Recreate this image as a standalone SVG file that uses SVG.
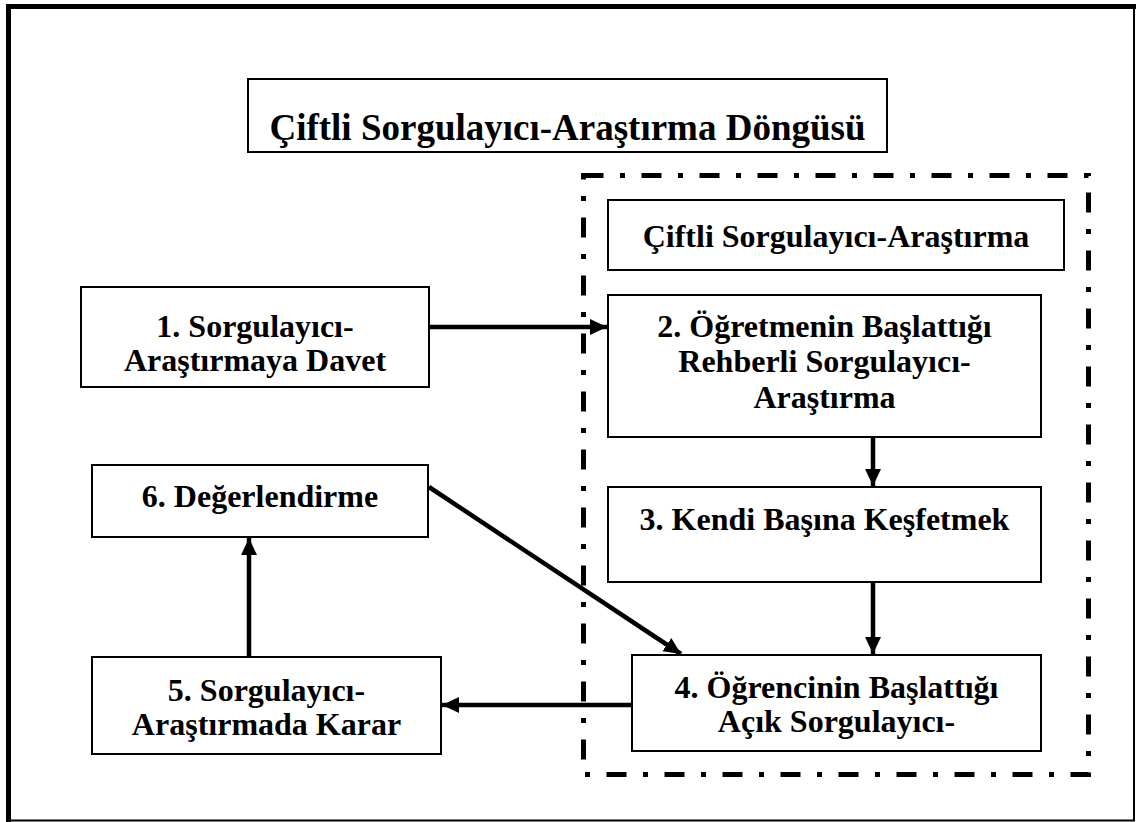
<svg xmlns="http://www.w3.org/2000/svg" width="1136" height="822" viewBox="0 0 1136 822">
<style>
.box{fill:#fff;stroke:#000;stroke-width:2}
.lbl{font-family:"Liberation Serif","Times New Roman",serif;font-weight:bold;font-size:32px;text-anchor:middle;fill:#000}
.ttl{font-family:"Liberation Serif","Times New Roman",serif;font-weight:bold;font-size:37px;text-anchor:middle;fill:#000}
.con{stroke:#000;stroke-width:4.5;fill:none;marker-end:url(#ah)}
</style>
<defs>
<marker id="ah" markerUnits="userSpaceOnUse" markerWidth="20" markerHeight="18" refX="17" refY="8" orient="auto">
<path d="M0,0 L17,8 L0,16 Z" fill="#000"/>
</marker>
</defs>
<rect width="1136" height="822" fill="#fff"/>
<path d="M8.5,822 V6.5 H1136" fill="none" stroke="#000" stroke-width="5"/>
<path d="M1134,6 V820.5 H8" fill="none" stroke="#000" stroke-width="2"/>
<g id="title">
<rect class="box" x="248" y="79" width="639" height="73"/>
<text class="ttl" x="567.5" y="140">Çiftli Sorgulayıcı-Araştırma Döngüsü</text>
</g>
<g id="group-paired">
<rect x="583.5" y="175.5" width="505" height="599" fill="none" stroke="#000" stroke-width="5" stroke-dasharray="20 16.5 5 16.5"/>
</g>
<g id="paired-label">
<rect class="box" x="608" y="200" width="456" height="70"/>
<text class="lbl" x="836" y="247">Çiftli Sorgulayıcı-Araştırma</text>
</g>
<g id="n1">
<rect class="box" x="81" y="287" width="348" height="100"/>
<text class="lbl" x="255" y="337">1. Sorgulayıcı-</text>
<text class="lbl" x="255" y="371">Araştırmaya Davet</text>
</g>
<g id="n2">
<rect class="box" x="608" y="295" width="433" height="142"/>
<text class="lbl" x="824.5" y="337">2. Öğretmenin Başlattığı</text>
<text class="lbl" x="824.5" y="372">Rehberli Sorgulayıcı-</text>
<text class="lbl" x="824.5" y="408">Araştırma</text>
</g>
<g id="n3">
<rect class="box" x="608" y="487" width="433" height="95"/>
<text class="lbl" x="824.5" y="530">3. Kendi Başına Keşfetmek</text>
</g>
<g id="n4">
<rect class="box" x="632" y="655" width="409" height="96"/>
<text class="lbl" x="836.5" y="698">4. Öğrencinin Başlattığı</text>
<text class="lbl" x="836.5" y="732">Açık Sorgulayıcı-</text>
</g>
<g id="n5">
<rect class="box" x="92" y="657" width="349" height="97"/>
<text class="lbl" x="266.5" y="701">5. Sorgulayıcı-</text>
<text class="lbl" x="266.5" y="735">Araştırmada Karar</text>
</g>
<g id="n6">
<rect class="box" x="92" y="465" width="336" height="72"/>
<text class="lbl" x="260" y="507">6. Değerlendirme</text>
</g>
<g id="connectors">
<line class="con" x1="429" y1="327" x2="607" y2="327"/>
<line class="con" x1="873" y1="438" x2="873" y2="486"/>
<line class="con" x1="873" y1="583" x2="873" y2="654"/>
<line class="con" x1="631" y1="705" x2="442" y2="705"/>
<line class="con" x1="249" y1="656" x2="249" y2="538"/>
<line class="con" x1="429" y1="487" x2="681" y2="654"/>
</g>
</svg>
